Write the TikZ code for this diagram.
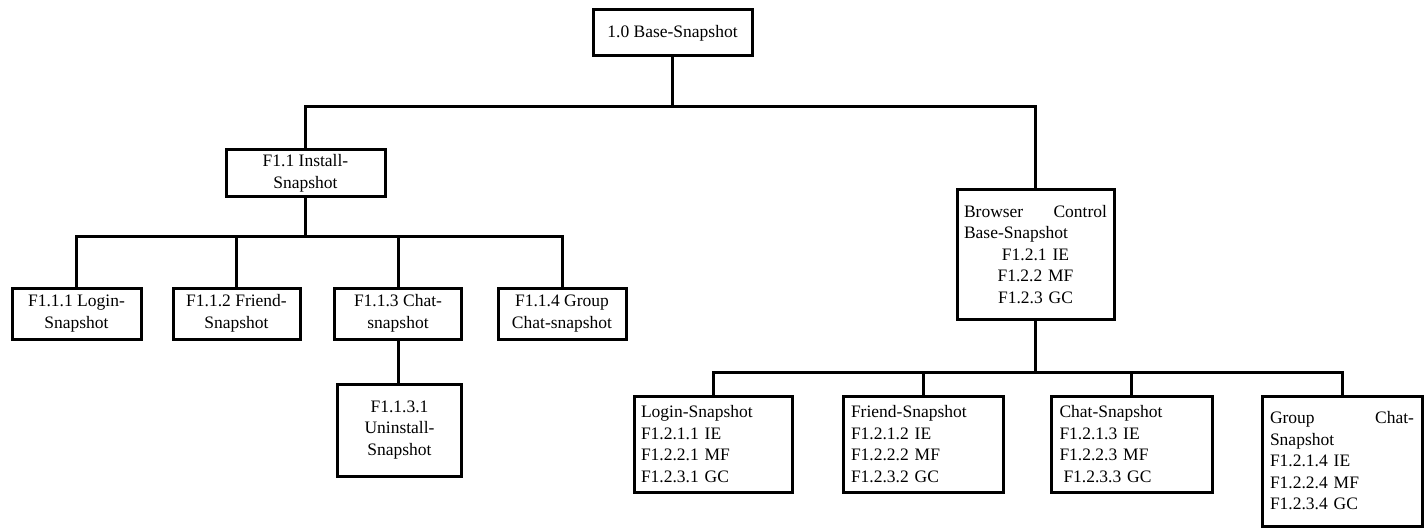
\documentclass[tikz,border=0pt]{standalone}
\usepackage{fontspec}
\setmainfont{Liberation Serif}
\begin{document}
\begin{tikzpicture}[x=1pt,y=-1pt,line width=3pt,
  bx/.style={draw,line width=3pt,inner sep=0pt,font=\fontsize{17.5}{21.5}\selectfont},
  cbx/.style={bx,align=center},
  lbx/.style={bx,align=left,text width=144pt}]
\useasboundingbox (0,0) rectangle (1426,529);
% level 0
\node[bx,minimum width=159pt,minimum height=46pt] (root) at (672.5,33) {1.0 Base-Snapshot};
% level 1
\node[cbx,minimum width=159pt,minimum height=47pt] (inst) at (305.5,173.5) {F1.1 Install-\\Snapshot};
\node[lbx,text width=143pt,minimum width=157pt,minimum height=129pt] (brow) at (1035.5,254.5)
  {\makebox[143pt]{Browser\hfill Control}\\Base-Snapshot\\\makebox[143pt]{F1.2.1 IE}\\\makebox[143pt]{F1.2.2 MF}\\\makebox[143pt]{F1.2.3 GC}};
% level 2 left
\node[cbx,minimum width=129pt,minimum height=51pt] (l1) at (76.5,313.5) {F1.1.1 Login-\\Snapshot};
\node[cbx,minimum width=127pt,minimum height=51pt] (l2) at (236.5,313.5) {F1.1.2 Friend-\\Snapshot};
\node[cbx,minimum width=127pt,minimum height=51pt] (l3) at (398,313.5) {F1.1.3 Chat-\\snapshot};
\node[cbx,minimum width=128pt,minimum height=51pt] (l4) at (562,313.5) {F1.1.4 Group\\Chat-snapshot};
\node[cbx,minimum width=124pt,minimum height=92pt] (unin) at (399.5,430) {F1.1.3.1\\Uninstall-\\Snapshot};
% level 2 right
\node[lbx,minimum width=158pt,minimum height=96pt] (r1) at (713,444) {Login-Snapshot\\F1.2.1.1 IE\\F1.2.2.1 MF\\F1.2.3.1 GC};
\node[lbx,minimum width=160pt,minimum height=96pt] (r2) at (923,444) {Friend-Snapshot\\F1.2.1.2 IE\\F1.2.2.2 MF\\F1.2.3.2 GC};
\node[lbx,minimum width=161pt,minimum height=96pt] (r3) at (1131.5,444) {Chat-Snapshot\\F1.2.1.3 IE\\F1.2.2.3 MF\\\hspace*{4pt}F1.2.3.3 GC};
\node[lbx,minimum width=160pt,minimum height=130pt] (r4) at (1342,461) {\makebox[144pt]{Group\hfill Chat-}\\Snapshot\\F1.2.1.4 IE\\F1.2.2.4 MF\\F1.2.3.4 GC};
% bar junctions
\coordinate (j0) at (672.5,107);
\coordinate (j1) at (305.5,237);
\coordinate (j2) at (1035.5,372);
% connectors
\draw (root.south) -- (j0);
\draw (inst.north) |- (j0) -| (brow.north);
\draw (inst.south) -- (j1);
\draw (l1.north) |- (j1) -| (l4.north);
\draw (l2.north) -- (l2.north |- j1);
\draw (l3.north) -- (l3.north |- j1);
\draw (l3.south) -- (l3.south |- unin.north);
\draw (brow.south) -- (j2);
\draw (r1.north) |- (j2) -| (r4.north);
\draw (r2.north) -- (r2.north |- j2);
\draw (r3.north) -- (r3.north |- j2);
\end{tikzpicture}
\end{document}
